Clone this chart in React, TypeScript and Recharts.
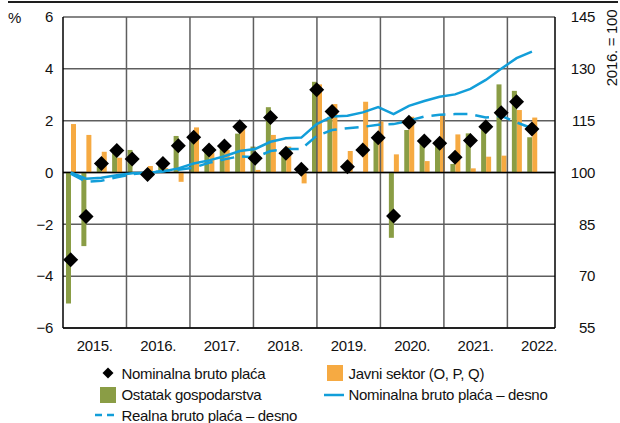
import React from "react";
import { ComposedChart, Bar, Line, XAxis, YAxis, CartesianGrid, ReferenceLine } from "recharts";

// godine i kvartali
const years = ["2015.", "2016.", "2017.", "2018.", "2019.", "2020.", "2021.", "2022."];
const quarterNames = ["I.", "II.", "III.", "IV."];

// godišnje stope promjene, % (lijeva os); 2022. Q4 nema podatka
const nominalGrowth = [
  -3.37, -1.7, 0.35, 0.85, 0.52, -0.08, 0.35, 1.03,
  1.36, 0.87, 1.02, 1.77, 0.55, 2.12, 0.74, 0.13,
  3.19, 2.35, 0.22, 0.87, 1.34, -1.68, 1.94, 1.22,
  1.13, 0.59, 1.23, 1.77, 2.31, 2.73, 1.68, null,
];
const restOfEconomy = [
  -5.05, -2.84, 0.22, 0.75, 0.87, -0.05, 0.29, 1.41,
  1.4, 0.9, 0.95, 1.5, 1.0, 2.52, 0.85, 0.05,
  3.5, 2.15, 0.03, 0.02, 1.3, -2.52, 1.64, 1.13,
  1.02, 0.33, 1.51, 1.7, 3.4, 3.15, 1.36, null,
];
const publicSector = [
  1.87, 1.45, 0.8, 0.57, 0.0, 0.25, 0.17, -0.36,
  1.74, 0.75, 0.87, 1.75, 0.1, 1.45, 1.0, -0.42,
  3.4, 2.64, 0.83, 2.73, 1.97, 0.7, 2.15, 0.44,
  2.22, 1.47, 0.16, 0.61, 0.65, 2.41, 2.12, null,
];

// indeksi, 2016. = 100 (desna os)
const nominalIndex = [
  100.0, 98.2, 98.5, 99.2, 99.8, 99.9, 100.3, 101.2,
  102.6, 103.5, 104.7, 106.2, 106.8, 108.9, 109.9, 110.1,
  114.0, 116.2, 116.4, 117.4, 118.9, 116.9, 119.3, 120.7,
  121.9, 122.6, 124.2, 126.8, 130.0, 133.1, 135.0, null,
];
const realIndex = [
  99.7, 97.3, 97.6, 98.6, 99.5, 100.0, 100.4, 100.8,
  101.4, 102.8, 103.8, 104.7, 104.4, 106.2, 106.8, 106.8,
  110.6, 112.3, 112.8, 113.2, 113.8, 114.0, 115.0, 116.2,
  116.7, 116.9, 116.9, 115.9, 116.4, 114.5, 112.8, null,
];

const leftTicks = [-6, -4, -2, 0, 2, 4, 6];
const rightTicks = [55, 70, 85, 100, 115, 130, 145];

const GREEN = "#8a9d45";
const ORANGE = "#f6aa42";
const BLUE = "#129ed9";
const GRID = "#5e5e5e";
const FONT = "'Liberation Sans', Arial, sans-serif";
const FS = 15;
const LS = "-0.3px";

const quarters = years.flatMap((y) => quarterNames.map((q) => `${q} ${y}`));
const data = quarters.map((q, i) => ({
  q,
  nominal: nominalGrowth[i],
  rest: restOfEconomy[i],
  pub: publicSector[i],
  nomIdx: nominalIndex[i],
  realIdx: realIndex[i],
}));

// os godina: 4 kvartala po godini
const yearTicks = years.map((_, i) => i * 4 + 2);
const yearBounds = years.slice(1).map((_, i) => (i + 1) * 4);

const fmtLeft = (v: number) => (v < 0 ? `\u2212${-v}` : `${v}`);

const Diamond = (props: any) => {
  const { cx, cy, index } = props;
  if (cx == null || cy == null || props.value == null) return <g key={index} />;
  const r = 7.5;
  return (
    <path
      key={index}
      d={`M${cx},${cy - r}L${cx + r},${cy}L${cx},${cy + r}L${cx - r},${cy}Z`}
      fill="#000"
    />
  );
};

const RightTick = (props: any) => {
  const { x, y, payload } = props;
  return (
    <text x={x + 40} y={y} dy="0.35em" textAnchor="end" fill="#111" fontSize={FS} fontFamily={FONT} letterSpacing={LS}>
      {payload.value}
    </text>
  );
};

const legendItems = [
  { name: "Nominalna bruto plaća", kind: "diamond", col: 0, row: 0 },
  { name: "Javni sektor (O, P, Q)", kind: "orange", col: 1, row: 0 },
  { name: "Ostatak gospodarstva", kind: "green", col: 0, row: 1 },
  { name: "Nominalna bruto plaća \u2013 desno", kind: "line", col: 1, row: 1 },
  { name: "Realna bruto plaća \u2013 desno", kind: "dash", col: 0, row: 2 },
];

const LegendMarker = ({ kind }: { kind: string }) => {
  if (kind === "diamond")
    return (
      <svg width={28} height={20}>
        <path d="M14,4.5L19.5,10L14,15.5L8.5,10Z" fill="#000" />
      </svg>
    );
  if (kind === "orange" || kind === "green")
    return (
      <svg width={28} height={20}>
        <rect x={6} y={2} width={16} height={16} fill={kind === "orange" ? ORANGE : GREEN} />
      </svg>
    );
  return (
    <svg width={28} height={20}>
      <line
        x1={kind === "dash" ? 1 : 3}
        x2={23}
        y1={10}
        y2={10}
        stroke={BLUE}
        strokeWidth={2.5}
        strokeDasharray={kind === "dash" ? "7 5" : undefined}
      />
    </svg>
  );
};

export default function App() {
  const colX = [93.5, 320.5];
  const rowY = [363, 384.5, 405];
  return (
    <div style={{ position: "absolute", left: 0, top: 0, width: 620, height: 423, overflow: "hidden", background: "#fff", fontFamily: FONT, color: "#111", letterSpacing: LS }}>
      <div style={{ position: "absolute", left: 8, top: 1, width: 610, height: 2, background: "#1e1e1e" }} />
      <div style={{ position: "absolute", left: 8, top: 8, fontSize: FS, lineHeight: "20px" }}>%</div>
      <div
        style={{
          position: "absolute",
          left: 612,
          top: 48,
          fontSize: FS,
          lineHeight: "20px",
          whiteSpace: "nowrap",
          transform: "translate(-50%, -50%) rotate(-90deg)",
        }}
      >
        2016. = 100
      </div>
      <div style={{ position: "absolute", left: 0, top: 0 }}>
        <ComposedChart width={620} height={423} data={data} margin={{ top: 17, right: 0, bottom: 65, left: 0 }} barGap={0}>
          <CartesianGrid xAxisId="q" yAxisId="left" vertical={false} stroke={GRID} strokeWidth={1.5} />
          <XAxis xAxisId="q" dataKey="q" hide height={0} />
          <XAxis
            xAxisId="yr"
            type="number"
            domain={[0, 32]}
            ticks={yearTicks}
            allowDataOverflow
            tickFormatter={(v: number) => years[(v - 2) / 4]}
            axisLine={{ stroke: "#000", strokeWidth: 1.5 }}
            tickLine={false}
            tickSize={0}
            tickMargin={12}
            height={30}
            tick={{ fill: "#111", fontSize: FS, fontFamily: FONT }}
          />
          <YAxis
            yAxisId="left"
            domain={[-6, 6]}
            ticks={leftTicks}
            width={63}
            tickFormatter={fmtLeft}
            axisLine={{ stroke: "#000", strokeWidth: 1.5 }}
            tickLine={false}
            tickSize={0}
            tickMargin={10}
            tick={{ fill: "#111", fontSize: FS, fontFamily: FONT }}
          />
          <YAxis
            yAxisId="right"
            orientation="right"
            domain={[55, 145]}
            ticks={rightTicks}
            width={65}
            axisLine={{ stroke: "#000", strokeWidth: 1.5 }}
            tickLine={false}
            tickSize={0}
            tickMargin={0}
            tick={<RightTick />}
          />
          {yearBounds.map((x) => (
            <ReferenceLine key={x} xAxisId="yr" yAxisId="left" x={x} stroke={GRID} strokeWidth={1.5} />
          ))}
          <Bar xAxisId="q" yAxisId="left" dataKey="rest" fill={GREEN} barSize={5} isAnimationActive={false} />
          <Bar xAxisId="q" yAxisId="left" dataKey="pub" fill={ORANGE} barSize={5} isAnimationActive={false} />
          <ReferenceLine xAxisId="q" yAxisId="left" y={0} stroke="#000" strokeWidth={1.5} />
          <Line
            xAxisId="q"
            yAxisId="right"
            type="linear"
            dataKey="nomIdx"
            stroke={BLUE}
            strokeWidth={2.5}
            dot={false}
            activeDot={false}
            isAnimationActive={false}
          />
          <Line
            xAxisId="q"
            yAxisId="right"
            type="linear"
            dataKey="realIdx"
            stroke={BLUE}
            strokeWidth={2.5}
            strokeDasharray="14 8"
            dot={false}
            activeDot={false}
            isAnimationActive={false}
          />
          <Line
            xAxisId="q"
            yAxisId="left"
            dataKey="nominal"
            stroke="none"
            dot={Diamond}
            activeDot={false}
            isAnimationActive={false}
          />
        </ComposedChart>
      </div>
      {legendItems.map((it) => (
        <div
          key={it.name}
          style={{
            position: "absolute",
            left: colX[it.col],
            top: rowY[it.row],
            height: 20,
            display: "flex",
            alignItems: "center",
            fontSize: FS,
            whiteSpace: "nowrap",
          }}
        >
          <LegendMarker kind={it.kind} />
          <span>{it.name}</span>
        </div>
      ))}
    </div>
  );
}
